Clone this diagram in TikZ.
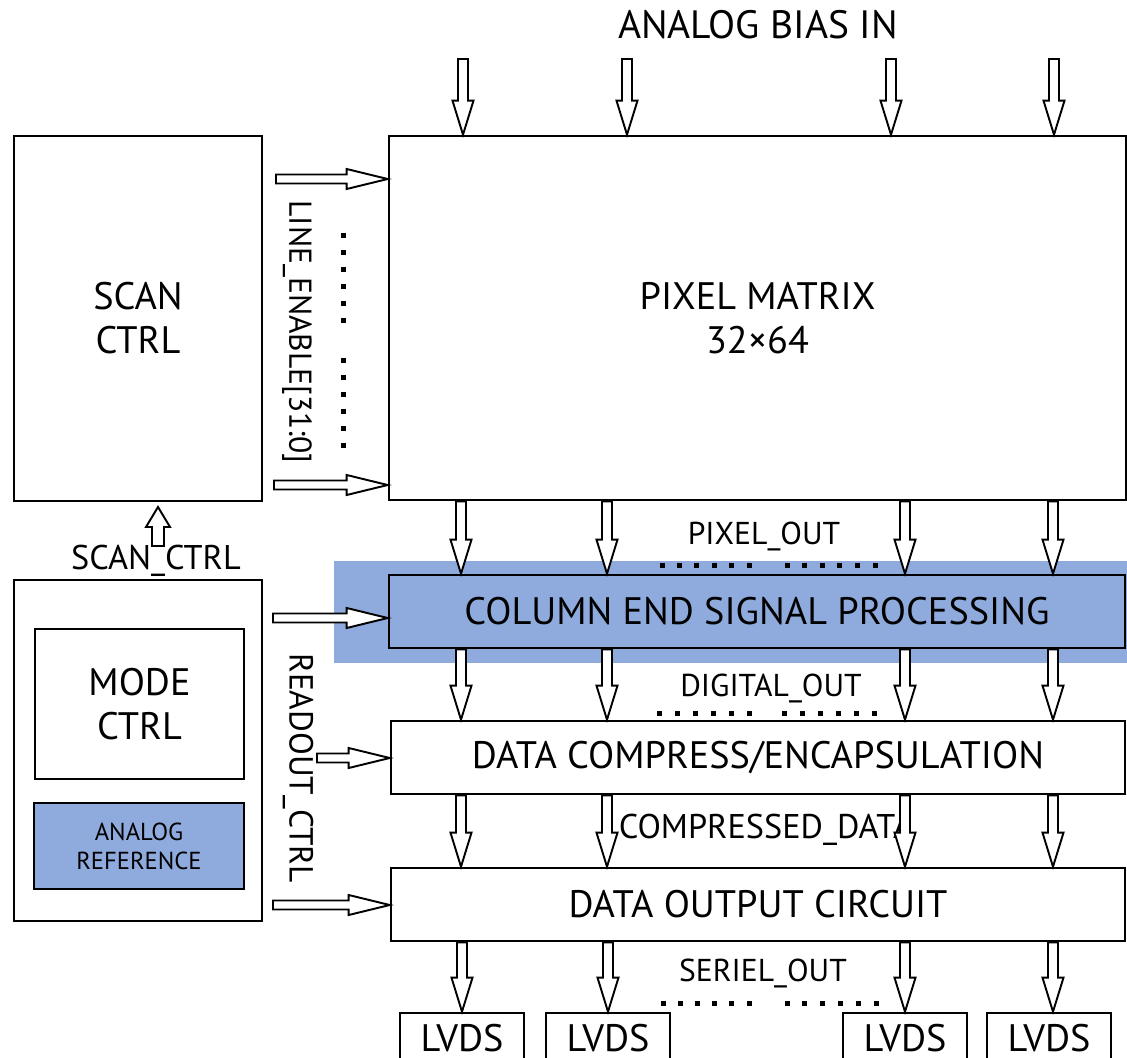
\documentclass[tikz,border=0pt]{standalone}
\usepackage{fontspec}
\setmainfont{PT Sans}
\usetikzlibrary{calc}
\definecolor{pblue}{RGB}{143,170,220}
\tikzset{
  box/.style={draw, line width=1.5pt, inner sep=0pt, align=center,
    font=\fontsize{21.8}{25}\selectfont},
  lbl/.style={inner sep=0pt, font=\fontsize{18}{21}\selectfont},
  harrow/.style={draw, fill=white, line width=1.1pt, line join=miter},
}
\newcommand\downArrow[2]{%
  \draw[harrow] ($#1+(-5,0)$) -- ($#1+(5,0)$) -- ($#2+(5,-34)$) -- ($#2+(10.5,-34)$)
    -- #2 -- ($#2+(-10.5,-34)$) -- ($#2+(-5,-34)$) -- cycle;}
\newcommand\rightArrow[2]{%
  \draw[harrow] ($#1+(0,-4.5)$) -- ($#2+(-41,-4.5)$) -- ($#2+(-41,-10)$)
    -- #2 -- ($#2+(-41,10)$) -- ($#2+(-41,4.5)$) -- ($#1+(0,4.5)$) -- cycle;}
\newcommand\hDots[3]{\foreach \i in {0,...,5}
  \fill ({#1+\i*(#2-#1)/5-2.5},{#3-2.5}) rectangle ++(5,5);}
\begin{document}
\begin{tikzpicture}[x=0.02cm,y=-0.02cm]
\useasboundingbox (0,0) rectangle (1127,1058);
\clip (0,0) rectangle (1127,1058);

% background highlight
\fill[pblue] (334,561) rectangle (1127,663);

% boxes
\node[box, minimum width=248*0.02cm, minimum height=365*0.02cm] (scan) at (138,318.5) {SCAN\\CTRL};
\node[box, minimum width=737*0.02cm, minimum height=364*0.02cm] (pm) at (757.5,318) {PIXEL MATRIX\\32×64};
\node[box, fill=pblue, minimum width=736*0.02cm, minimum height=73*0.02cm] (col) at (757,611.5) {COLUMN END SIGNAL PROCESSING};
\node[box, minimum width=734*0.02cm, minimum height=73*0.02cm] (comp) at (758,757.5) {DATA COMPRESS/ENCAPSULATION};
\node[box, minimum width=734*0.02cm, minimum height=73*0.02cm] (out) at (758,904.5) {DATA OUTPUT CIRCUIT};
\node[box, minimum width=248*0.02cm, minimum height=341*0.02cm] (ctrl) at (138,750.5) {};
\node[box, minimum width=209*0.02cm, minimum height=150*0.02cm] (mode) at (139.5,704) {MODE\\CTRL};
\node[box, fill=pblue, minimum width=210*0.02cm, minimum height=86*0.02cm,
  font=\fontsize{14}{16.4}\selectfont] (aref) at (139,846) {ANALOG\\REFERENCE};
\foreach \n/\x in {l1/462,l2/608,l3/905,l4/1049}
  \node[box, minimum width=124*0.02cm, minimum height=50*0.02cm] (\n) at (\x,1038) {LVDS};

% labels
\node[inner sep=0pt, font=\fontsize{22.5}{25}\selectfont] (bias) at (758,25) {ANALOG BIAS IN};
\node[lbl] (lpix) at (764,536) {PIXEL\_OUT};
\node[lbl] (ldig) at (771,688.5) {DIGITAL\_OUT};
\node[lbl, font=\fontsize{19.5}{22}\selectfont] (lcmp) at (766,830) {COMPRESSED\_DATA};
\node[lbl] (lser) at (763,973) {SERIEL\_OUT};
\node[lbl, font=\fontsize{19.5}{22}\selectfont] (lscan) at (156,561) {SCAN\_CTRL};
\node[lbl, rotate=-90] (lline) at (297,332) {LINE\_ENABLE[31:0]};
\node[lbl, rotate=-90, font=\fontsize{19}{22}\selectfont] (lread) at (298,768) {READOUT\_CTRL};

% column coordinates
\coordinate (t1) at (463,59);
\coordinate (t2) at (627,59);
\coordinate (t3) at (891,59);
\coordinate (t4) at (1054,59);
\coordinate (c1) at (461,0);
\coordinate (c2) at (607,0);
\coordinate (c3) at (905,0);
\coordinate (c4) at (1053,0);

% top bias arrows
\foreach \t in {t1,t2,t3,t4} { \downArrow{(\t)}{(pm.north -| \t)} }
% vertical data arrows
\foreach \c in {c1,c2,c3,c4} {
  \downArrow{(pm.south -| \c)}{(col.north -| \c)}
  \downArrow{(col.south -| \c)}{(comp.north -| \c)}
  \downArrow{(comp.south -| \c)}{(out.north -| \c)}
}
\downArrow{(out.south -| l1.north)}{(l1.north)}
\downArrow{(out.south -| l2.north)}{(l2.north)}
\downArrow{(out.south -| c3)}{(l3.north -| c3)}
\downArrow{(out.south -| c4)}{(l4.north -| c4)}

% left horizontal arrows
\coordinate (h1) at (276,179);
\coordinate (h2) at (274,485);
\coordinate (h3) at (273,618);
\coordinate (h4) at (317,758);
\coordinate (h5) at (273,905);
\rightArrow{(h1)}{(pm.west |- h1)}
\rightArrow{(h2)}{(pm.west |- h2)}
\rightArrow{(h3)}{(col.west |- h3)}
\rightArrow{(h4)}{(comp.west |- h4)}
\rightArrow{(h5)}{(out.west |- h5)}

% up arrow SCAN_CTRL
\coordinate (ub) at (158,546);
\coordinate (ut) at (158,507);
\draw[harrow] ($(ub)+(-6,0)$) -- ($(ut)+(-6,20)$) -- ($(ut)+(-12,20)$) -- (ut)
  -- ($(ut)+(12,20)$) -- ($(ut)+(6,20)$) -- ($(ub)+(6,0)$) -- cycle;

% dotted ellipses
\hDots{662}{749}{565}
\hDots{787}{875}{565}
\hDots{659}{749}{713}
\hDots{784}{874}{713}
\hDots{663}{749}{1003}
\hDots{787}{876}{1003}
\foreach \i in {0,...,5} {
  \fill ({343-2.5},{235+\i*17-2.5}) rectangle ++(5,5);
  \fill ({343-2.5},{360+\i*17-2.5}) rectangle ++(5,5);
}
\end{tikzpicture}
\end{document}
